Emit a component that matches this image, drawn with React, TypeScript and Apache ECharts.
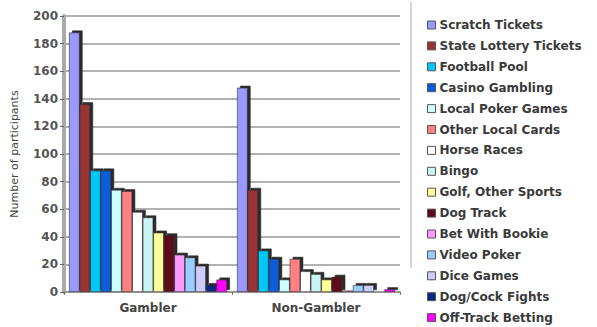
import React, { useEffect, useRef } from "react";
import * as echarts from "echarts";

const categories = ["Gambler", "Non-Gambler"];
const activities = [
  "Scratch Tickets",
  "State Lottery Tickets",
  "Football Pool",
  "Casino Gambling",
  "Local Poker Games",
  "Other Local Cards",
  "Horse Races",
  "Bingo",
  "Golf, Other Sports",
  "Dog Track",
  "Bet With Bookie",
  "Video Poker",
  "Dice Games",
  "Dog/Cock Fights",
  "Off-Track Betting",
];
const gamblerValues = [188, 136, 88, 88, 74, 73, 58, 54, 43, 41, 27, 25, 19, 5, 9];
const nonGamblerValues = [148, 74, 30, 24, 9, 24, 15, 13, 9, 11, 1, 5, 5, 0, 2];
const colors = [
  "#9999FF",
  "#993333",
  "#00C8F8",
  "#0A5CD8",
  "#CCFFFF",
  "#FF8080",
  "#FFFFFF",
  "#C8F4F4",
  "#FFFF99",
  "#5C0A1E",
  "#FF99FF",
  "#99CCFF",
  "#CCCCFF",
  "#0A2A80",
  "#FF00FF",
];
const yTicks = { min: 0, max: 200, interval: 20 };

export default function App() {
  const ref = useRef<HTMLDivElement>(null);
  useEffect(() => {
    document.body.style.margin = "0";
    if (!ref.current) return;
    const chart = echarts.init(ref.current, undefined, { renderer: "svg" });
    const font = "DejaVu Sans";
    chart.setOption({
      animation: false,
      backgroundColor: "#FFFFFF",
      textStyle: { fontFamily: font },
      grid: { left: 64, right: 197, top: 16, bottom: 35, containLabel: false },
      legend: {
        orient: "vertical",
        left: 427,
        top: 19,
        padding: 0,
        itemWidth: 8,
        itemHeight: 8,
        itemGap: 8.9,
        icon: "rect",
        itemStyle: { borderColor: "#555", borderWidth: 1 },
        textStyle: { fontFamily: font, fontSize: 12, fontWeight: "bold", color: "#3a3a3a", padding: [0, 0, 0, -1] },
        data: activities,
      },
      xAxis: {
        type: "category",
        data: categories,
        axisLine: { show: true, lineStyle: { color: "#999", width: 2 } },
        axisTick: { show: true, alignWithLabel: false, length: 3, lineStyle: { color: "#777" } },
        axisLabel: { fontFamily: font, fontSize: 12, fontWeight: "bold", color: "#444", margin: 10 },
      },
      yAxis: {
        type: "value",
        min: yTicks.min,
        max: yTicks.max,
        interval: yTicks.interval,
        name: "Number of participants",
        nameLocation: "middle",
        nameGap: 44,
        nameTextStyle: { fontFamily: font, fontSize: 11, color: "#444" },
        axisLine: { show: true, lineStyle: { color: "#aaa", width: 4 } },
        axisTick: { show: true, length: 4, lineStyle: { color: "#666" } },
        axisLabel: { fontFamily: font, fontSize: 12, fontWeight: "bold", color: "#555", margin: 6 },
        splitLine: { show: true, lineStyle: { color: "#999", width: 1.5 } },
      },
      graphic: [
        {
          type: "line",
          shape: { x1: 411, y1: 2, x2: 411, y2: 268 },
          style: { stroke: "#aaa", lineWidth: 1 },
        },
      ],
      series: activities.map((name, i) => ({
        name,
        type: "bar",
        data: [gamblerValues[i], nonGamblerValues[i]],
        barGap: "0%",
        barCategoryGap: "6%",
        itemStyle: {
          color: colors[i],
          borderColor: "#333",
          borderWidth: 0.6,
          shadowColor: "#2a2a2a",
          shadowBlur: 0,
          shadowOffsetX: 3,
          shadowOffsetY: -2,
        },
      })),
    });
    return () => chart.dispose();
  }, []);
  return <div ref={ref} style={{ width: 597, height: 327 }} />;
}
